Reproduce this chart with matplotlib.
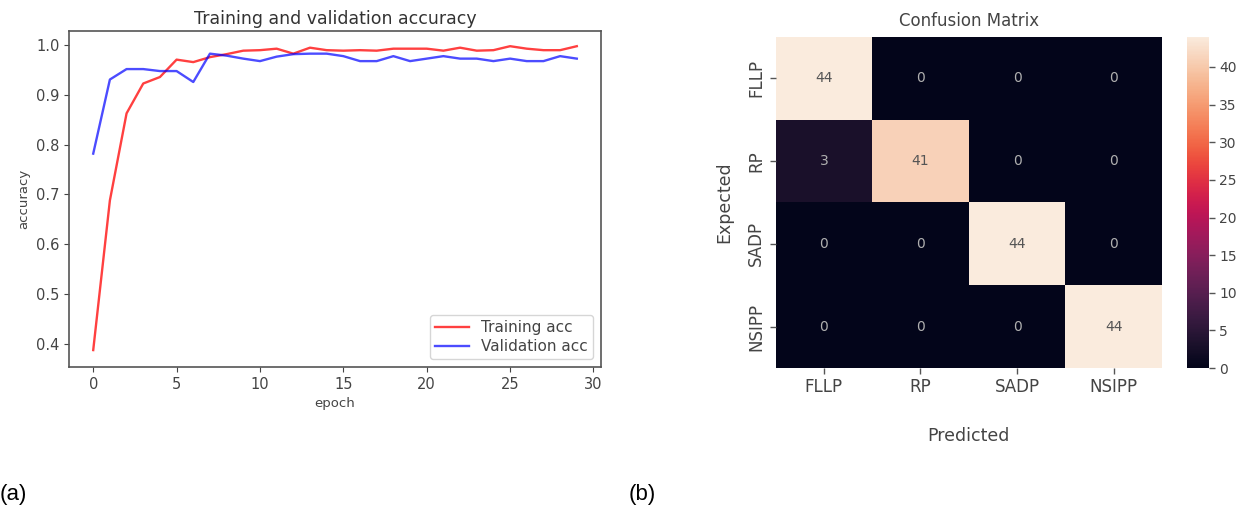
import matplotlib
matplotlib.use("Agg")
import matplotlib.pyplot as plt
import numpy as np
import seaborn as sns

epochs = list(range(30))
train_acc = [0.387, 0.688, 0.863, 0.923, 0.936, 0.971, 0.966, 0.976, 0.982, 0.989,
             0.990, 0.993, 0.983, 0.995, 0.990, 0.989, 0.990, 0.989, 0.993, 0.993,
             0.993, 0.989, 0.995, 0.989, 0.990, 0.998, 0.993, 0.990, 0.990, 0.998]
val_acc = [0.782, 0.931, 0.952, 0.952, 0.948, 0.948, 0.926, 0.983, 0.979, 0.973,
           0.968, 0.977, 0.982, 0.983, 0.983, 0.978, 0.968, 0.968, 0.978, 0.968,
           0.973, 0.978, 0.973, 0.973, 0.968, 0.973, 0.968, 0.968, 0.978, 0.973]

classes = ["FLLP", "RP", "SADP", "NSIPP"]
conf = np.array([[44, 0, 0, 0],
                 [3, 41, 0, 0],
                 [0, 0, 44, 0],
                 [0, 0, 0, 44]])

fig = plt.figure(figsize=(12.44, 5.11), dpi=100)

# (a) accuracy curves
ax1 = fig.add_axes([0.0555, 0.2818, 0.4276, 0.657])
ax1.plot(epochs, train_acc, color="red", alpha=0.75, lw=1.7, label="Training acc")
ax1.plot(epochs, val_acc, color="blue", alpha=0.7, lw=1.7, label="Validation acc")
ax1.set_title("Training and validation accuracy", fontsize=12.5, color="#333333", pad=5)
ax1.set_xlabel("epoch", fontsize=9.5, color="#444444")
ax1.set_ylabel("accuracy", fontsize=9.5, color="#444444")
ax1.set_xticks([0, 5, 10, 15, 20, 25, 30])
ax1.set_yticks([0.4, 0.5, 0.6, 0.7, 0.8, 0.9, 1.0])
ax1.set_xlim(-1.45, 30.45)
ax1.set_ylim(0.353, 1.028)
ax1.tick_params(labelsize=10.5, colors="#444444")
for s in ax1.spines.values():
    s.set_color("#555555")
    s.set_linewidth(1.2)
ax1.legend(loc="lower right", fontsize=11, labelcolor="#444444",
           labelspacing=0.25, borderpad=0.35, handlelength=2.2)

# (b) confusion matrix
ax2 = fig.add_axes([0.6235, 0.2798, 0.3105, 0.648])
cax = fig.add_axes([0.9545, 0.2798, 0.017, 0.648])
sns.heatmap(conf, annot=False, cmap="rocket", vmin=0, vmax=44,
            xticklabels=classes, yticklabels=classes, ax=ax2, cbar_ax=cax,
            linewidths=0)
for i in range(conf.shape[0]):
    for j in range(conf.shape[1]):
        v = conf[i, j]
        ax2.text(j + 0.5, i + 0.5, str(v), ha="center", va="center",
                 fontsize=10, color="#555555" if v > 20 else "#b0b0b0")
ax2.set_title("Confusion Matrix", fontsize=12, color="#444444", pad=8)
ax2.set_xlabel("Predicted", fontsize=12.5, color="#444444", labelpad=22)
ax2.set_ylabel("Expected", fontsize=12.5, color="#444444", labelpad=10)
ax2.tick_params(axis="both", which="major", left=True, bottom=True,
                labelsize=12, labelcolor="#444444", color="#555555",
                length=4, width=1, direction="out")
ax2.set_yticklabels(classes, rotation=90, va="center")
ax2.set_xticklabels(classes, rotation=0)
cax.tick_params(axis="y", right=True, labelsize=10, labelcolor="#444444",
                color="#555555", length=4, width=1, direction="out")
cax.set_yticks([0, 5, 10, 15, 20, 25, 30, 35, 40])

fig.text(0.0, 0.012, "(a)", fontsize=16, family="Liberation Sans", color="black",
         va="bottom")
fig.text(0.505, 0.012, "(b)", fontsize=16, family="Liberation Sans", color="black",
         va="bottom")

fig.savefig("out.png", dpi=100)
